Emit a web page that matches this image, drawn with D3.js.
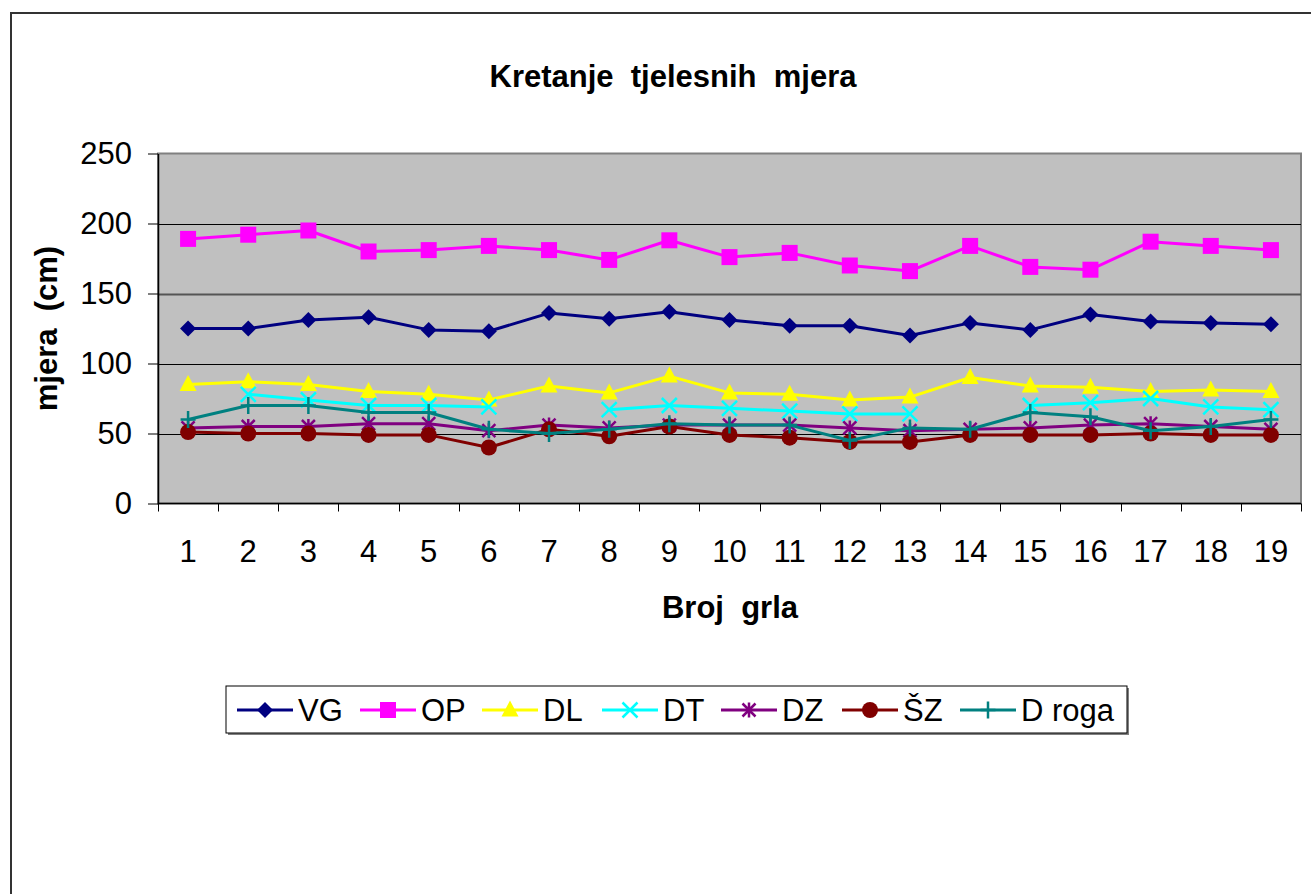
<!DOCTYPE html>
<html><head><meta charset="utf-8">
<script src="https://cdn.jsdelivr.net/npm/d3@7"></script>
<style>
html,body{margin:0;padding:0;background:#fff;}
svg{display:block;font-family:"Liberation Sans",Arial,sans-serif;}
text{white-space:pre;}
</style></head>
<body>
<svg id="c" width="1311" height="894"></svg>
<script>
const categories = ["1","2","3","4","5","6","7","8","9","10","11","12","13","14","15","16","17","18","19"];
const seriesNames = ["VG","OP","DL","DT","DZ","ŠZ","D roga"];
const VG = [125,125,131,133,124,123,136,132,137,131,127,127,120,129,124,135,130,129,128];
const OP = [189,192,195,180,181,184,181,174,188,176,179,170,166,184,169,167,187,184,181];
const DL = [85,87,85,80,78,74,84,79,91,79,78,74,76,90,84,83,80,81,80];
const DT = [null,78,74,70,70,69,null,67,70,68,66,64,64,null,70,72,75,69,67];
const DZ = [54,55,55,57,57,52,56,54,56,56,56,54,52,53,54,56,57,55,53];
const SZ = [51,50,50,49,49,40,53,48,55,49,47,44,44,49,49,49,50,49,49];
const DROGA = [60,70,70,65,65,53,50,53,57,56,56,45,54,53,65,62,52,55,60];
const yTicks = [0,50,100,150,200,250];
const title = "Kretanje  tjelesnih  mjera";
const xTitle = "Broj  grla";
const yTitle = "mjera  (cm)";

const seriesData = [VG, OP, DL, DT, DZ, SZ, DROGA];
const colors = ["#000080","#FF00FF","#FFFF00","#00FFFF","#800080","#800000","#008080"];
const markers = ["diamond","square","triangle","x","star","circle","plus"];
const FS = 31;

const svg = d3.select("#c");
const L = 158, R = 1301, T = 153.5, B = 503.5;
const x = d3.scaleBand().domain(categories).range([L, R]);
const y = d3.scaleLinear().domain([0, 250]).range([B, T]);

// outer border
svg.append("rect").attr("x", 11).attr("y", 13).attr("width", 1330).attr("height", 900)
  .attr("fill", "#fff").attr("stroke", "#333").attr("stroke-width", 2);

// plot area
svg.append("rect").attr("x", L).attr("y", T).attr("width", R - L).attr("height", B - T)
  .attr("fill", "#C0C0C0").attr("stroke", "#808080").attr("stroke-width", 2);

// gridlines
svg.append("g").selectAll("line").data(yTicks.filter(d => d > 0 && d < 250)).join("line")
  .attr("x1", L).attr("x2", R).attr("y1", d => Math.round(y(d)) + 0.5).attr("y2", d => Math.round(y(d)) + 0.5)
  .attr("stroke", d => d === 150 ? "#555" : "#000").attr("stroke-width", d => d === 150 ? 2 : 1);

// y axis
const yAxis = svg.append("g").attr("transform", `translate(${L},0)`)
  .call(d3.axisLeft(y).tickValues(yTicks).tickSize(10).tickPadding(16).tickSizeOuter(0));
yAxis.select(".domain").attr("stroke", "#000").attr("stroke-width", 1.5);
yAxis.selectAll(".tick line").attr("stroke", "#000");
yAxis.selectAll("text").attr("font-size", FS).attr("fill", "#000")
  .attr("font-family", "Liberation Sans, Arial, sans-serif");

// x axis
const xAxis = svg.append("g").attr("transform", `translate(0,${B})`)
  .call(d3.axisBottom(x).tickSize(0).tickPadding(36));
xAxis.select(".domain").remove();
xAxis.selectAll("text").attr("font-size", FS).attr("fill", "#000")
  .attr("font-family", "Liberation Sans, Arial, sans-serif");
svg.append("line").attr("x1", L).attr("x2", R).attr("y1", B).attr("y2", B)
  .attr("stroke", "#000").attr("stroke-width", 1.5);
const bounds = categories.map(c => x(c)).concat([x(categories[categories.length - 1]) + x.bandwidth()]);
svg.append("g").selectAll("line").data(bounds).join("line")
  .attr("x1", d => Math.round(d) + 0.5).attr("x2", d => Math.round(d) + 0.5)
  .attr("y1", B).attr("y2", B + 8).attr("stroke", "#000").attr("stroke-width", 1);

// marker drawing
function drawMarker(g, type, color) {
  const s = 8;
  if (type === "diamond") {
    g.append("path").attr("d", `M0,${-s}L${s},0L0,${s}L${-s},0Z`).attr("fill", color);
  } else if (type === "square") {
    g.append("rect").attr("x", -8).attr("y", -8).attr("width", 16).attr("height", 16).attr("fill", color);
  } else if (type === "triangle") {
    g.append("path").attr("d", `M0,-9.5L8.5,6.5L-8.5,6.5Z`).attr("fill", color);
  } else if (type === "x") {
    g.append("path").attr("d", `M-7.5,-7.5L7.5,7.5M-7.5,7.5L7.5,-7.5`).attr("stroke", color).attr("stroke-width", 2.5).attr("fill", "none");
  } else if (type === "star") {
    g.append("path").attr("d", `M-6.5,-6.5L6.5,6.5M-6.5,6.5L6.5,-6.5M0,-7.5L0,7.5`).attr("stroke", color).attr("stroke-width", 2.5).attr("fill", "none");
  } else if (type === "circle") {
    g.append("circle").attr("r", 8).attr("fill", color);
  } else if (type === "plus") {
    g.append("path").attr("d", `M-7.5,0L7.5,0M0,-8.5L0,8.5`).attr("stroke", color).attr("stroke-width", 2.5).attr("fill", "none");
  }
}

const cx = c => x(c) + x.bandwidth() / 2;
const line = d3.line().defined(d => d.v != null).x(d => cx(d.c)).y(d => y(d.v));

seriesData.forEach((vals, i) => {
  const pts = categories.map((c, j) => ({ c, v: vals[j] }));
  const g = svg.append("g");
  g.append("path").datum(pts).attr("d", line).attr("fill", "none")
    .attr("stroke", colors[i]).attr("stroke-width", 3).attr("stroke-linejoin", "round");
  pts.filter(d => d.v != null).forEach(d => {
    const mg = g.append("g").attr("transform", `translate(${cx(d.c)},${y(d.v)})`);
    drawMarker(mg, markers[i], colors[i]);
  });
});

// titles
svg.append("text").attr("x", 673).attr("y", 87).attr("text-anchor", "middle")
  .attr("font-size", FS).attr("font-weight", "bold").text(title);
svg.append("text").attr("x", 730).attr("y", 618).attr("text-anchor", "middle")
  .attr("font-size", FS).attr("font-weight", "bold").text(xTitle);
svg.append("text").attr("transform", `translate(57,${(T + B) / 2}) rotate(-90)`).attr("text-anchor", "middle")
  .attr("font-size", FS).attr("font-weight", "bold").text(yTitle);

// legend
const lg = svg.append("g");
const lx0 = 226, ly0 = 686, lx1 = 1127, ly1 = 733;
lg.append("rect").attr("x", lx0 + 2).attr("y", ly0 + 2).attr("width", lx1 - lx0).attr("height", ly1 - ly0).attr("fill", "#808080");
lg.append("rect").attr("x", lx0).attr("y", ly0).attr("width", lx1 - lx0).attr("height", ly1 - ly0)
  .attr("fill", "#fff").attr("stroke", "#000").attr("stroke-width", 1);
const legendLineX = [237, 360, 482, 602, 721, 842, 960];
const ly = 710;
seriesNames.forEach((n, i) => {
  const x0 = legendLineX[i];
  lg.append("line").attr("x1", x0).attr("x2", x0 + 56).attr("y1", ly).attr("y2", ly)
    .attr("stroke", colors[i]).attr("stroke-width", 3);
  const mg = lg.append("g").attr("transform", `translate(${x0 + 28},${ly})`);
  drawMarker(mg, markers[i], colors[i]);
  lg.append("text").attr("x", x0 + 61).attr("y", ly + 11).attr("font-size", FS).attr("fill", "#000").text(n);
});
</script>
</body></html>
